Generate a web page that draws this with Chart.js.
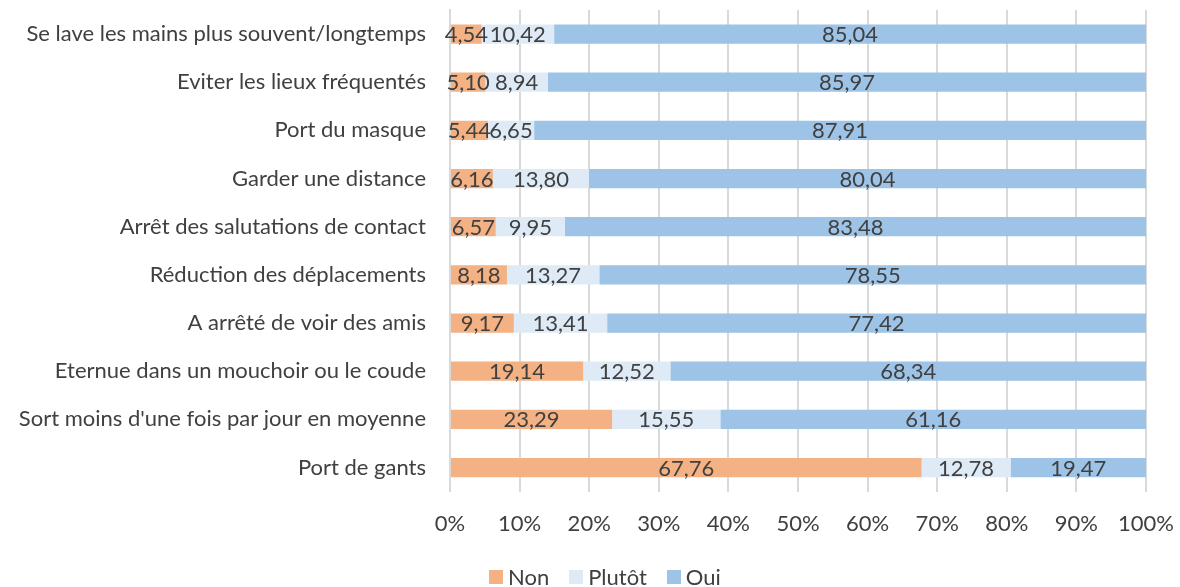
<!DOCTYPE html>
<html lang="fr">
<head>
    <meta charset="UTF-8">
    <title>Mesures barrières</title>
    <script src="https://cdn.jsdelivr.net/npm/chart.js"></script>
    <style>
        body { margin: 0; background: #fff; font-family: Lato, "Open Sans", sans-serif; }
        .wrap { width: 1180px; height: 587px; position: relative; }
        .legend { position: absolute; left: 489px; top: 564px; display: flex; gap: 20px; font-size: 22px; color: #404040; line-height: 26px; }
        .legend span { display: flex; align-items: center; gap: 5px; }
        .legend i { display: inline-block; width: 14px; height: 14px; }
    </style>
</head>
<body>
    <div class="wrap">
        <canvas id="chart"></canvas>
        <div class="legend" id="legend"></div>
    </div>
    <script>
        const categories = [
            'Se lave les mains plus souvent/longtemps',
            'Eviter les lieux fréquentés',
            'Port du masque',
            'Garder une distance',
            'Arrêt des salutations de contact',
            'Réduction des déplacements',
            'A arrêté de voir des amis',
            'Eternue dans un mouchoir ou le coude',
            "Sort moins d'une fois par jour en moyenne",
            'Port de gants'
        ];
        const seriesNames  = ['Non', 'Plutôt', 'Oui'];
        const nonValues    = [4.54, 5.10, 5.44, 6.16, 6.57, 8.18, 9.17, 19.14, 23.29, 67.76];
        const plutotValues = [10.42, 8.94, 6.65, 13.80, 9.95, 13.27, 13.41, 12.52, 15.55, 12.78];
        const ouiValues    = [85.04, 85.97, 87.91, 80.04, 83.48, 78.55, 77.42, 68.34, 61.16, 19.47];
        const xTicks = [0, 10, 20, 30, 40, 50, 60, 70, 80, 90, 100];

        const colors = ['#F4B183', '#DEEBF7', '#9DC3E6'];
        const FONT = 'Lato, "Open Sans", sans-serif';
        const SIZE = 22;
        const TEXT = '#404040';

        // étiquettes de valeur au centre de chaque segment
        const valueLabels = {
            id: 'valueLabels',
            afterDatasetsDraw(chart) {
                const c = chart.ctx;
                c.save();
                c.font = SIZE + 'px ' + FONT;
                c.fillStyle = TEXT;
                c.textAlign = 'center';
                c.textBaseline = 'middle';
                chart.data.datasets.forEach((ds, i) => {
                    chart.getDatasetMeta(i).data.forEach((bar, j) => {
                        const x = (bar.x + bar.base) / 2;
                        c.fillText(ds.data[j].toFixed(2).replace('.', ','), x, bar.y + 1);
                    });
                });
                c.restore();
            }
        };

        const chart = new Chart(document.getElementById('chart'), {
            type: 'bar',
            data: {
                labels: categories,
                datasets: [nonValues, plutotValues, ouiValues].map((d, i) => ({
                    label: seriesNames[i], data: d, backgroundColor: colors[i]
                }))
            },
            options: {
                indexAxis: 'y',
                responsive: true,
                maintainAspectRatio: false,
                animation: false,
                layout: { padding: { left: 0, right: 34, top: 10, bottom: 31 } },
                datasets: { bar: { barPercentage: 0.8, categoryPercentage: 0.5 } },
                scales: {
                    x: {
                        stacked: true, min: 0, max: 100,
                        afterBuildTicks: (s) => { s.ticks = xTicks.map(v => ({ value: v })); },
                        afterFit: (s) => { s.paddingLeft = 0; s.paddingRight = 0; },
                        grid: { color: '#D9D9D9', lineWidth: 2, drawTicks: false },
                        border: { display: false },
                        ticks: { padding: 19, color: TEXT, font: { family: FONT, size: SIZE }, callback: v => v + '%' }
                    },
                    y: {
                        stacked: true,
                        afterFit: (s) => { s.width = 450; s.paddingTop = 0; s.paddingBottom = 0; },
                        grid: { display: false, drawTicks: false },
                        border: { display: true, color: '#D9D9D9', width: 2 },
                        ticks: { padding: 24, color: TEXT, font: { family: FONT, size: SIZE } }
                    }
                },
                plugins: {
                    tooltip: { enabled: false },
                    legend: { display: false }
                }
            },
            plugins: [valueLabels]
        });

        // légende en HTML
        const legend = document.getElementById('legend');
        chart.data.datasets.forEach(ds => {
            const item = document.createElement('span');
            item.innerHTML = '<i style="background:' + ds.backgroundColor + '"></i>' + ds.label;
            legend.appendChild(item);
        });
    </script>
</body>
</html>
